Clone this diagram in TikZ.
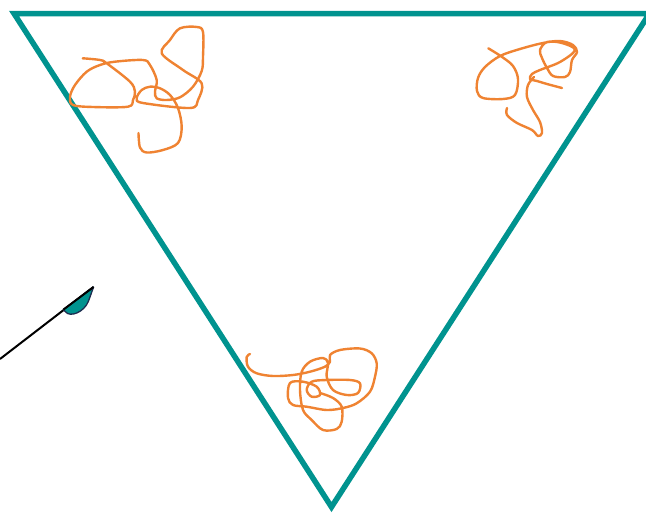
\documentclass[tikz,border=0pt]{standalone}
\usetikzlibrary{calc}
\definecolor{tealc}{RGB}{0,147,143}
\definecolor{orangec}{RGB}{239,131,50}
\definecolor{navyc}{RGB}{30,45,80}
\tikzset{
  frame/.style={draw=tealc, line width=5.5pt, line join=miter},
  scribble/.style={draw=orangec, line width=2.4pt, line cap=round, line join=round},
  penline/.style={draw=black, line width=2pt},
  nib/.style={fill=tealc, draw=navyc, line width=1.3pt, line join=round}
}
\begin{document}
\begin{tikzpicture}[x=1pt,y=-1pt]
\useasboundingbox (0,0) rectangle (646,514);
% triangle
\coordinate (tl) at (14,13.5);
\coordinate (tr) at (649.5,13.5);
\coordinate (bt) at (331.5,507);
\draw[frame] (tl) -- (tr) -- (bt) -- cycle;
% top-left scribble
\draw[scribble] plot[smooth, tension=0.55] coordinates {
 (82.7,58.3) (100,60) (106.7,63.3) (130,81.7) (135,91.7) (133,100) (128,106.7)
 (93,107) (73,105) (70,96.7) (75,85) (86.7,71.7) (100,65) (115,61.7) (143,60)
 (150,65) (156.7,80) (155,91.7) (156.7,98.3) (166.7,100) (180,97.3) (193,86.7)
 (201.7,71) (203,56.7) (203,32) (197,27) (180,28.3) (170,40) (161.7,53.3)
 (183,70) (201.7,83.3) (198,100) (190,108) (143,103) (136.7,98.3) (141.7,90)
 (150,86.7) (160,88.3) (170,95) (178,108) (181.7,126.7) (178,143) (163,150)
 (146.7,152.5) (140,147.5) (138.5,133)};
% top-right scribble
\draw[scribble] plot[smooth, tension=0.55] coordinates {
 (488.3,48.3) (501.7,56.7) (513,66) (518,79) (515,95) (503,99) (483,98)
 (477,91) (478,78) (485,67) (500,56) (520,49) (543,43) (560,41) (573,45)
 (577,52) (572,60) (570,72) (565,77) (553,76) (547,68) (542,58) (540,50)
 (547,42) (562,43) (575,50) (560,62) (540,70) (532,74) (530,79) (537,81)
 (547,84) (562,88)};
\draw[scribble] plot[smooth, tension=0.55] coordinates {
 (534,77) (528,85) (527,97) (533,110) (540,122) (542,133) (538,136)
 (532,130) (517,123) (507,115) (507,108)};
% bottom scribble
\draw[scribble] plot[smooth, tension=0.55] coordinates {
 (250,354) (246.7,357) (248,366.7) (256.7,373.3) (273,376) (293,375)
 (310,371.7) (325,366.7) (330,361.7) (330,355) (340,350) (360,348.5)
 (371.7,353.3) (376.7,363.3) (375,376.7) (370,391.7) (356.7,403.3)
 (343,408) (326.7,410) (306.7,406.7) (293,405) (288,398) (290,383)
 (303,381.7) (316.7,386.7) (320,395) (311.7,396.7) (306.7,390) (311.7,381.7)
 (326.7,380) (350,380) (360,383.3) (358,393) (346.7,395) (333,390)
 (326.7,376.7) (328,363) (323,358) (310,361.7) (301.7,371.7) (300,390)
 (303,410) (311.7,420) (323,430) (336.7,429) (341.7,421.7) (341.7,406.7)
 (333,398) (320,393)};
% pen
\coordinate (p0) at (0,359);
\coordinate (p1) at (93.5,287);
\draw[penline] (p0) -- (p1);
\filldraw[nib] (p1) plot[smooth, tension=0.6] coordinates {
 (93.5,287) (90,297) (86.5,305) (80.5,311) (73.5,314) (67.5,313.5) (63.5,309.5)}
 -- cycle;
\draw[penline] (63.5,309.5) -- (p1);
\end{tikzpicture}
\end{document}
